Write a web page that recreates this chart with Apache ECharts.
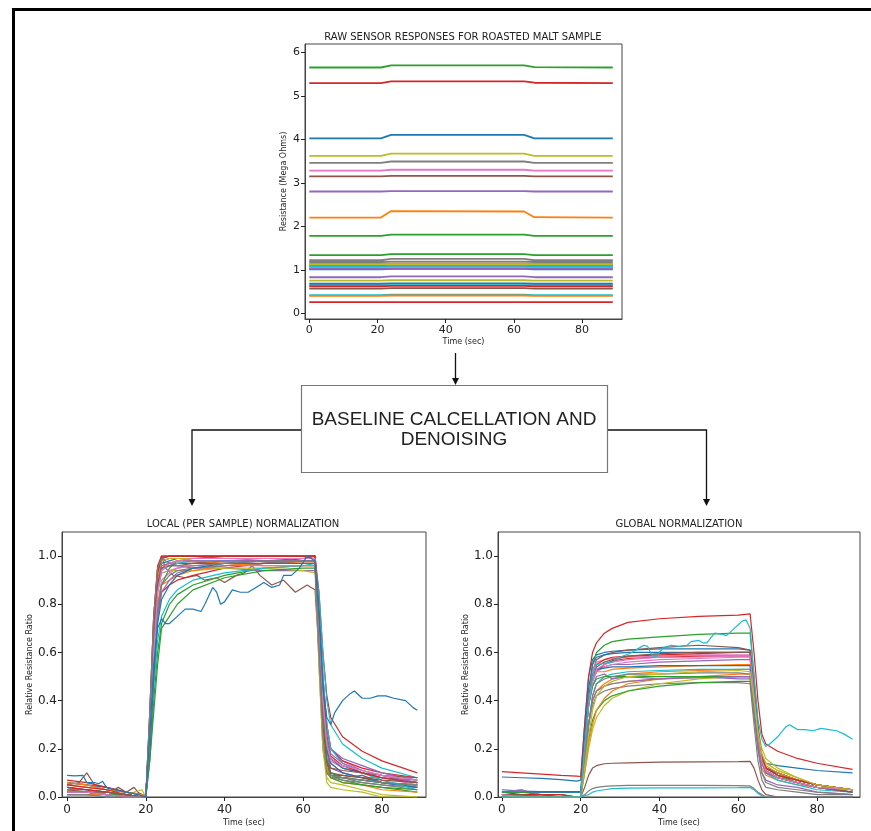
<!DOCTYPE html>
<html><head><meta charset="utf-8">
<script src="https://cdn.jsdelivr.net/npm/echarts@6.0.0/dist/echarts.min.js"></script>
<style>html,body{margin:0;padding:0;background:#fff}#c{width:871px;height:831px}</style>
</head><body><div id="c"></div>
<script>
const PALETTE = ['#1f77b4','#ff7f0e','#2ca02c','#d62728','#9467bd','#8c564b','#e377c2','#7f7f7f','#bcbd22','#17becf'];

// ---- Raw sensor responses (Mega Ohms) ----
const rawTimes = [0, 21, 24, 63, 66, 89];
const rawValues = [
  [4.02,4.02,4.10,4.10,4.02,4.02],
  [2.20,2.20,2.35,2.34,2.21,2.20],
  [5.65,5.65,5.70,5.70,5.66,5.65],
  [5.29,5.29,5.33,5.33,5.30,5.29],
  [2.80,2.80,2.81,2.81,2.80,2.80],
  [3.15,3.15,3.16,3.16,3.15,3.15],
  [3.28,3.28,3.30,3.30,3.28,3.28],
  [3.46,3.46,3.49,3.49,3.46,3.46],
  [3.62,3.62,3.67,3.67,3.62,3.62],
  [0.64,0.64,0.65,0.65,0.64,0.64],
  [0.68,0.68,0.69,0.69,0.68,0.68],
  [1.14,1.14,1.15,1.15,1.14,1.14],
  [1.78,1.78,1.81,1.81,1.78,1.78],
  [0.26,0.26,0.26,0.26,0.26,0.26],
  [0.83,0.83,0.85,0.85,0.83,0.83],
  [0.57,0.57,0.58,0.58,0.57,0.57],
  [1.04,1.04,1.05,1.05,1.04,1.04],
  [1.22,1.22,1.25,1.25,1.22,1.22],
  [0.75,0.75,0.76,0.76,0.75,0.75],
  [0.42,0.42,0.43,0.43,0.42,0.42],
  [1.01,1.01,1.02,1.02,1.01,1.01],
  [0.40,0.40,0.41,0.41,0.40,0.40],
  [1.34,1.34,1.36,1.36,1.34,1.34],
  [0.62,0.62,0.63,0.63,0.62,0.62],
  [1.02,1.02,1.03,1.03,1.02,1.02],
  [1.10,1.10,1.12,1.12,1.10,1.10],
  [1.06,1.06,1.07,1.07,1.06,1.06],
  [1.18,1.18,1.19,1.19,1.18,1.18],
  [1.12,1.12,1.13,1.13,1.12,1.12],
  [1.08,1.08,1.09,1.09,1.08,1.08]
];

// ---- Normalized responses, shared time grid ----
const normTimes = [0,5,10,15,19,20,21,22,23,24,26,28,32,40,50,60,63,64,65,66,67,70,75,80,89];

const localValues = [
  [0.06,0.05,0.04,0.02,0.01,0.0,0.3,0.7,0.93,0.99,1.0,1.0,1.0,0.99,0.99,0.99,1.0,0.7,0.35,0.15,0.09,0.08,0.07,0.06,0.05],
  [0.05,0.04,0.03,0.02,0.01,0.0,0.25,0.6,0.85,0.95,0.97,0.97,0.97,0.98,0.98,0.97,0.97,0.7,0.4,0.22,0.14,0.1,0.08,0.06,0.04],
  [0.03,0.03,0.02,0.01,0.0,0.0,0.15,0.4,0.6,0.72,0.8,0.84,0.88,0.92,0.95,0.96,0.96,0.75,0.45,0.2,0.09,0.07,0.05,0.04,0.02],
  [0.07,0.06,0.04,0.02,0.01,0.0,0.2,0.5,0.75,0.85,0.88,0.9,0.92,0.95,0.97,0.99,1.0,0.85,0.6,0.42,0.33,0.25,0.19,0.15,0.1],
  [0.04,0.03,0.02,0.01,0.0,0.0,0.3,0.65,0.88,0.95,0.96,0.96,0.95,0.95,0.94,0.94,0.94,0.7,0.4,0.2,0.12,0.1,0.08,0.06,0.04],
  [0.02,0.02,0.01,0.01,0.0,0.0,0.35,0.75,0.95,1.0,1.0,1.0,1.0,1.0,1.0,1.0,1.0,0.6,0.25,0.1,0.09,0.09,0.08,0.08,0.07],
  [0.03,0.02,0.02,0.01,0.0,0.0,0.25,0.55,0.8,0.9,0.93,0.95,0.96,0.97,0.98,0.98,0.98,0.75,0.45,0.28,0.2,0.15,0.11,0.09,0.06],
  [0.01,0.01,0.01,0.0,0.0,0.0,0.3,0.7,0.92,0.98,0.99,0.99,0.99,0.99,0.99,0.99,0.99,0.55,0.2,0.1,0.08,0.07,0.06,0.05,0.04],
  [0.02,0.02,0.01,0.01,0.03,0.0,0.25,0.6,0.85,0.93,0.94,0.94,0.94,0.95,0.95,0.94,0.93,0.6,0.25,0.08,0.06,0.05,0.03,0.01,0.0],
  [0.04,0.03,0.02,0.01,0.0,0.0,0.2,0.45,0.65,0.75,0.82,0.86,0.9,0.93,0.95,0.96,0.97,0.85,0.6,0.4,0.3,0.22,0.16,0.12,0.08],
  [0.06,0.05,0.03,0.02,0.01,0.0,0.3,0.65,0.9,0.97,0.98,0.99,0.99,0.99,0.99,0.99,0.99,0.7,0.35,0.2,0.14,0.1,0.08,0.06,0.04],
  [0.06,0.05,0.03,0.02,0.01,0.0,0.25,0.55,0.8,0.88,0.9,0.92,0.94,0.96,0.97,0.97,0.97,0.75,0.45,0.25,0.16,0.12,0.1,0.08,0.06],
  [0.02,0.02,0.01,0.01,0.0,0.0,0.2,0.5,0.75,0.88,0.95,0.98,0.99,1.0,1.0,1.0,1.0,0.7,0.35,0.15,0.1,0.08,0.07,0.06,0.05],
  [0.05,0.04,0.03,0.01,0.0,0.0,0.35,0.75,0.96,1.0,1.0,1.0,1.0,1.0,1.0,1.0,1.0,0.8,0.5,0.3,0.2,0.15,0.12,0.1,0.08],
  [0.03,0.03,0.02,0.01,0.0,0.0,0.2,0.5,0.75,0.85,0.9,0.93,0.95,0.96,0.97,0.98,0.98,0.8,0.5,0.3,0.2,0.16,0.13,0.1,0.07],
  [0.04,0.03,0.02,0.01,0.0,0.0,0.3,0.65,0.88,0.95,0.96,0.97,0.97,0.98,0.98,0.98,0.98,0.6,0.3,0.15,0.12,0.11,0.1,0.09,0.08],
  [0.01,0.01,0.0,0.0,0.0,0.0,0.3,0.65,0.87,0.93,0.94,0.95,0.96,0.96,0.96,0.96,0.96,0.7,0.4,0.22,0.15,0.12,0.1,0.08,0.05],
  [0.02,0.02,0.01,0.0,0.0,0.0,0.25,0.55,0.78,0.88,0.92,0.94,0.95,0.96,0.97,0.98,0.98,0.65,0.3,0.12,0.09,0.08,0.06,0.05,0.03],
  [0.03,0.02,0.02,0.01,0.0,0.0,0.3,0.7,0.92,0.98,0.99,0.99,0.99,0.99,0.99,0.99,0.99,0.55,0.2,0.06,0.04,0.03,0.02,0.0,0.0],
  [0.01,0.01,0.0,0.0,0.0,0.0,0.25,0.6,0.85,0.94,0.96,0.97,0.98,0.98,0.99,0.99,0.99,0.8,0.5,0.3,0.2,0.14,0.1,0.07,0.03],
  [0.02,0.02,0.01,0.01,0.0,0.0,0.2,0.5,0.72,0.82,0.88,0.92,0.95,0.97,0.98,0.99,0.99,0.75,0.45,0.25,0.16,0.12,0.1,0.08,0.06],
  [0.01,0.01,0.01,0.0,0.0,0.0,0.3,0.65,0.9,0.96,0.97,0.98,0.98,0.97,0.96,0.96,0.96,0.65,0.3,0.12,0.08,0.06,0.05,0.03,0.02],
  [0.02,0.02,0.01,0.01,0.0,0.0,0.15,0.35,0.55,0.7,0.75,0.8,0.86,0.91,0.94,0.95,0.95,0.75,0.4,0.15,0.08,0.06,0.05,0.04,0.03],
  [0.04,0.03,0.02,0.01,0.0,0.0,0.3,0.7,0.93,0.99,1.0,1.0,1.0,1.0,1.0,1.0,1.0,0.75,0.45,0.25,0.17,0.13,0.1,0.08,0.06],
  [0.02,0.02,0.01,0.0,0.0,0.0,0.3,0.65,0.88,0.96,0.97,0.98,0.98,0.98,0.98,0.98,0.98,0.7,0.4,0.24,0.18,0.14,0.11,0.09,0.06],
  [0.03,0.02,0.02,0.01,0.0,0.0,0.3,0.65,0.88,0.95,0.96,0.96,0.97,0.97,0.97,0.97,0.97,0.65,0.3,0.14,0.1,0.09,0.08,0.07,0.06],
  [0.02,0.02,0.01,0.0,0.0,0.0,0.25,0.6,0.85,0.94,0.97,0.98,0.99,0.99,0.99,0.99,0.99,0.7,0.4,0.22,0.16,0.13,0.11,0.09,0.07],
  [0.01,0.01,0.0,0.0,0.0,0.0,0.35,0.75,0.95,0.99,0.97,0.96,0.96,0.97,0.98,0.98,0.98,0.6,0.25,0.1,0.09,0.08,0.07,0.06,0.05]
];
// noisy local traces [time, value]
const localNoisyBlue = [[0,0.09],[2,0.088],[4,0.09],[5,0.06],[7,0.06],[8,0.055],[9,0.065],[10,0.04],[12,0.03],[15,0.02],[18,0.01],[20,0.0],[21,0.25],[22,0.55],[23,0.7],[24,0.74],[25,0.72],[26,0.72],[28,0.75],[30,0.78],[32,0.78],[34,0.77],[35,0.8],[37,0.87],[38,0.85],[39,0.8],[40,0.81],[42,0.86],[44,0.85],[46,0.85],[48,0.87],[50,0.89],[52,0.87],[54,0.88],[55,0.92],[57,0.92],[59,0.95],[61,1.0],[62,0.99],[63,0.98],[64,0.75],[65,0.45],[66,0.33],[67,0.3],[68,0.35],[70,0.4],[72,0.43],[73,0.44],[75,0.41],[77,0.41],[79,0.42],[81,0.42],[83,0.41],[86,0.40],[88,0.37],[89,0.36]];
const localNoisyBrown = [[0,0.05],[3,0.06],[5,0.1],[7,0.05],[10,0.04],[12,0.03],[13,0.04],[15,0.02],[17,0.04],[18,0.02],[20,0.0],[21,0.3],[22,0.7],[23,0.93],[24,1.0],[25,0.95],[27,0.92],[30,0.91],[33,0.92],[35,0.9],[38,0.91],[40,0.89],[43,0.92],[45,0.93],[47,0.96],[49,0.92],[52,0.88],[55,0.9],[58,0.85],[61,0.88],[62,0.87],[63,0.86],[64,0.6],[65,0.3],[66,0.1],[67,0.08],[70,0.08],[75,0.09],[80,0.06],[85,0.05],[89,0.05]];

const globalValues = [
  [0.083,0.08,0.077,0.072,0.066,0.07,0.3,0.5,0.57,0.59,0.6,0.605,0.61,0.615,0.615,0.615,0.61,0.45,0.25,0.17,0.14,0.13,0.12,0.11,0.1],
  [0.01,0.01,0.01,0.0,0.0,0.0,0.15,0.3,0.4,0.44,0.47,0.49,0.51,0.52,0.525,0.53,0.53,0.35,0.2,0.12,0.09,0.07,0.05,0.04,0.03],
  [0.02,0.02,0.02,0.02,0.02,0.02,0.2,0.4,0.55,0.6,0.63,0.645,0.655,0.665,0.675,0.68,0.68,0.5,0.3,0.16,0.11,0.08,0.06,0.04,0.03],
  [0.105,0.1,0.095,0.09,0.087,0.085,0.3,0.5,0.6,0.64,0.68,0.7,0.725,0.74,0.75,0.755,0.76,0.6,0.4,0.26,0.22,0.19,0.16,0.14,0.115],
  [0.01,0.01,0.01,0.0,0.0,0.0,0.2,0.4,0.5,0.53,0.54,0.55,0.55,0.56,0.565,0.57,0.57,0.4,0.25,0.15,0.1,0.08,0.06,0.04,0.03],
  [0.01,0.01,0.0,0.0,0.0,0.0,0.2,0.4,0.52,0.57,0.59,0.6,0.61,0.62,0.63,0.62,0.61,0.45,0.28,0.16,0.12,0.09,0.07,0.05,0.03],
  [0.02,0.03,0.01,0.01,0.0,0.0,0.2,0.4,0.52,0.56,0.57,0.575,0.58,0.585,0.59,0.59,0.59,0.42,0.25,0.14,0.1,0.08,0.06,0.04,0.03],
  [0.0,0.0,0.0,0.0,0.0,0.0,0.15,0.3,0.38,0.42,0.44,0.45,0.46,0.47,0.475,0.475,0.47,0.3,0.15,0.07,0.04,0.03,0.02,0.01,0.01],
  [0.01,0.01,0.0,0.0,0.0,0.0,0.1,0.2,0.28,0.33,0.38,0.41,0.44,0.47,0.49,0.5,0.5,0.38,0.25,0.17,0.14,0.11,0.08,0.05,0.03],
  [0.0,0.0,0.0,0.0,0.0,0.0,0.005,0.01,0.02,0.025,0.03,0.035,0.037,0.038,0.038,0.039,0.04,0.03,0.015,0.005,0.0,0.0,0.0,0.0,0.0],
  [0.03,0.025,0.022,0.022,0.022,0.022,0.25,0.45,0.55,0.58,0.59,0.595,0.6,0.6,0.6,0.6,0.6,0.42,0.25,0.15,0.12,0.1,0.07,0.05,0.03],
  [0.01,0.01,0.0,0.0,0.0,0.0,0.2,0.4,0.5,0.52,0.52,0.53,0.535,0.54,0.545,0.55,0.55,0.4,0.25,0.15,0.11,0.08,0.06,0.04,0.02],
  [0.01,0.01,0.0,0.0,0.0,0.0,0.12,0.24,0.32,0.36,0.4,0.42,0.44,0.46,0.475,0.48,0.48,0.35,0.22,0.15,0.12,0.09,0.07,0.05,0.03],
  [0.02,0.01,0.01,0.0,0.0,0.0,0.2,0.38,0.48,0.52,0.55,0.565,0.575,0.58,0.585,0.585,0.585,0.42,0.25,0.15,0.12,0.1,0.07,0.05,0.03],
  [0.02,0.03,0.0,0.0,0.0,0.0,0.2,0.38,0.46,0.5,0.51,0.49,0.5,0.49,0.5,0.49,0.49,0.35,0.2,0.1,0.07,0.05,0.04,0.02,0.01],
  [0.0,0.0,0.0,0.0,0.0,0.0,0.04,0.09,0.12,0.13,0.138,0.14,0.142,0.145,0.146,0.147,0.148,0.12,0.07,0.03,0.01,0.0,0.0,0.0,0.0],
  [0.01,0.0,0.0,0.0,0.0,0.0,0.2,0.38,0.48,0.52,0.54,0.55,0.56,0.57,0.575,0.58,0.58,0.42,0.25,0.15,0.11,0.08,0.06,0.04,0.02],
  [0.0,0.0,0.0,0.0,0.0,0.0,0.01,0.025,0.035,0.04,0.044,0.046,0.048,0.048,0.048,0.047,0.046,0.035,0.02,0.01,0.0,0.0,0.0,0.0,0.0],
  [0.01,0.0,0.0,0.0,0.0,0.0,0.15,0.3,0.4,0.44,0.46,0.47,0.48,0.49,0.495,0.5,0.5,0.4,0.28,0.2,0.16,0.12,0.08,0.05,0.03],
  [0.0,0.0,0.0,0.0,0.0,0.0,0.15,0.3,0.42,0.47,0.5,0.51,0.52,0.525,0.53,0.53,0.53,0.4,0.25,0.15,0.1,0.07,0.05,0.03,0.02],
  [0.02,0.02,0.02,0.02,0.02,0.02,0.2,0.4,0.5,0.53,0.535,0.54,0.54,0.545,0.545,0.545,0.545,0.4,0.25,0.15,0.12,0.1,0.07,0.05,0.03],
  [0.01,0.01,0.0,0.0,0.0,0.0,0.1,0.22,0.3,0.36,0.41,0.44,0.47,0.49,0.5,0.51,0.51,0.38,0.25,0.16,0.13,0.1,0.07,0.05,0.03],
  [0.02,0.02,0.01,0.01,0.0,0.0,0.2,0.38,0.46,0.49,0.5,0.5,0.5,0.5,0.5,0.5,0.5,0.38,0.24,0.15,0.12,0.09,0.06,0.04,0.02],
  [0.01,0.01,0.01,0.01,0.0,0.0,0.2,0.4,0.5,0.55,0.57,0.58,0.585,0.59,0.595,0.6,0.6,0.45,0.28,0.17,0.12,0.09,0.07,0.05,0.03],
  [0.0,0.0,0.0,0.0,0.0,0.0,0.15,0.3,0.4,0.44,0.46,0.47,0.48,0.49,0.495,0.5,0.5,0.38,0.24,0.14,0.1,0.08,0.06,0.04,0.02],
  [0.01,0.01,0.0,0.0,0.0,0.0,0.2,0.4,0.5,0.54,0.56,0.57,0.585,0.595,0.6,0.6,0.6,0.45,0.28,0.16,0.11,0.08,0.06,0.04,0.02],
  [0.01,0.0,0.0,0.0,0.0,0.0,0.2,0.38,0.48,0.53,0.55,0.56,0.57,0.58,0.58,0.585,0.585,0.42,0.25,0.15,0.11,0.08,0.06,0.04,0.03],
  [0.0,0.0,0.0,0.0,0.0,0.0,0.15,0.3,0.42,0.47,0.49,0.5,0.51,0.51,0.515,0.515,0.51,0.35,0.2,0.1,0.06,0.04,0.03,0.02,0.01],
  [0.0,0.0,0.0,0.0,0.0,0.0,0.12,0.25,0.36,0.42,0.46,0.48,0.5,0.51,0.52,0.525,0.52,0.4,0.27,0.18,0.14,0.11,0.08,0.05,0.03]
];
const globalNoisyCyan = [[0,0.0],[20,0.0],[21,0.2],[22,0.4],[23,0.5],[24,0.55],[26,0.555],[28,0.56],[30,0.58],[33,0.6],[35,0.62],[36,0.63],[37,0.625],[38,0.59],[39,0.58],[40,0.6],[41,0.62],[43,0.63],[45,0.625],[47,0.63],[48,0.645],[50,0.65],[51,0.64],[52,0.64],[54,0.68],[56,0.675],[57,0.67],[59,0.7],[60,0.715],[61,0.73],[62,0.735],[63,0.7],[64,0.5],[65,0.32],[66,0.24],[67,0.21],[68,0.22],[70,0.25],[72,0.29],[73,0.3],[74,0.29],[75,0.28],[77,0.28],[79,0.275],[81,0.285],[83,0.28],[85,0.275],[87,0.26],[89,0.24]];

const rawYTicks = [0,1,2,3,4,5,6];
const normYTicks = [0,0.2,0.4,0.6,0.8,1.0];
const timeTicks = [0,20,40,60,80];

// ---- build ----
const FONT = 'DejaVu Sans';
function zip(times, vals){ return times.map((t,i)=>[t, vals[i]]); }
function xAx(gi, min, max, fs, margin, nameGap){
  return {type:'value', gridIndex:gi, min, max,
    axisLine:{show:true,onZero:false,lineStyle:{color:'#444',width:1}},
    axisTick:{show:true,length:4,customValues:timeTicks,lineStyle:{color:'#222'}},
    axisLabel:{customValues:timeTicks,color:'#222',fontSize:fs,fontFamily:FONT,margin},
    splitLine:{show:false},
    name:'Time (sec)', nameLocation:'middle', nameGap, nameTextStyle:{fontSize:8,fontFamily:FONT,color:'#222'}};
}
function yAx(gi, min, max, ticks, fs, name, nameGap, fmt){
  return {type:'value', gridIndex:gi, min, max,
    axisLine:{show:true,onZero:false,lineStyle:{color:'#444',width:1}},
    axisTick:{show:true,length:4,customValues:ticks,lineStyle:{color:'#222'}},
    axisLabel:{customValues:ticks,color:'#222',fontSize:fs,fontFamily:FONT,margin:5,formatter:fmt},
    splitLine:{show:false},
    name, nameLocation:'middle', nameGap, nameTextStyle:{fontSize:8,fontFamily:FONT,color:'#222'}};
}
const series = [];
function addLine(gi, data, color, w){
  series.push({type:'line', xAxisIndex:gi, yAxisIndex:gi, data, showSymbol:false, symbol:'none',
    lineStyle:{color, width:w}, silent:true, animation:false, z:2});
}
rawValues.forEach((v,i)=>addLine(0, zip(rawTimes, v), PALETTE[i%10], 1.8));
addLine(1, localNoisyBrown, PALETTE[5], 1.2);
localValues.forEach((v,i)=>addLine(1, zip(normTimes, v), PALETTE[i%10], 1.2));
addLine(1, localNoisyBlue, PALETTE[0], 1.2);
globalValues.forEach((v,i)=>addLine(2, zip(normTimes, v), PALETTE[i%10], 1.2));
addLine(2, globalNoisyCyan, PALETTE[9], 1.2);

const gridStyle = {show:true, borderColor:'#444', borderWidth:1, containLabel:false};
const option = {
  animation:false,
  backgroundColor:'#fff',
  grid:[
    Object.assign({left:305, top:44, width:317, height:275}, gridStyle),
    Object.assign({left:62, top:532, width:364, height:265}, gridStyle),
    Object.assign({left:498, top:532, width:362, height:265}, gridStyle)
  ],
  xAxis:[ xAx(0,-1.26,91.7,11,6,19), xAx(1,-1.3,91.2,12,7,22), xAx(2,-1.0,90.9,12,7,22) ],
  yAxis:[
    yAx(0,-0.13,6.19,rawYTicks,11,'Resistance (Mega Ohms)',17, v=>String(v)),
    yAx(1,0,1.1,normYTicks,12,'Relative Resistance Ratio',28, v=>v.toFixed(1)),
    yAx(2,0,1.1,normYTicks,12,'Relative Resistance Ratio',28, v=>v.toFixed(1))
  ],
  series,
  graphic:[
    {type:'rect', shape:{x:13.5,y:9.5,width:900,height:900}, style:{fill:'none',stroke:'#000',lineWidth:3}, z:0},
    {type:'text', x:463, y:37, style:{text:'RAW SENSOR RESPONSES FOR ROASTED MALT SAMPLE', font:'10px "DejaVu Sans"', fill:'#222', align:'center', verticalAlign:'middle'}},
    {type:'text', x:243, y:524, style:{text:'LOCAL (PER SAMPLE) NORMALIZATION', font:'10px "DejaVu Sans"', fill:'#222', align:'center', verticalAlign:'middle'}},
    {type:'text', x:679, y:524, style:{text:'GLOBAL NORMALIZATION', font:'10px "DejaVu Sans"', fill:'#222', align:'center', verticalAlign:'middle'}},
    // top arrow
    {type:'line', shape:{x1:455.5,y1:353,x2:455.5,y2:379}, style:{stroke:'#111',lineWidth:1.3}},
    {type:'polygon', shape:{points:[[452,378],[459,378],[455.5,385]]}, style:{fill:'#111'}},
    // box
    {type:'rect', shape:{x:301.5,y:385.5,width:306,height:87}, style:{fill:'#fff',stroke:'#777',lineWidth:1.2}},
    {type:'text', x:454, y:420, style:{text:'BASELINE CALCELLATION AND', font:'19px "Liberation Sans"', fill:'#222', align:'center', verticalAlign:'middle'}},
    {type:'text', x:454, y:440, style:{text:'DENOISING', font:'19px "Liberation Sans"', fill:'#222', align:'center', verticalAlign:'middle'}},
    // left connector
    {type:'polyline', shape:{points:[[301,430],[192,430],[192,500]]}, style:{fill:'none',stroke:'#111',lineWidth:1.3}},
    {type:'polygon', shape:{points:[[188.5,499],[195.5,499],[192,506]]}, style:{fill:'#111'}},
    // right connector
    {type:'polyline', shape:{points:[[608,430],[706.5,430],[706.5,500]]}, style:{fill:'none',stroke:'#111',lineWidth:1.3}},
    {type:'polygon', shape:{points:[[703,499],[710,499],[706.5,506]]}, style:{fill:'#111'}}
  ]
};
const chart = echarts.init(document.getElementById('c'), null, {renderer:'canvas'});
chart.setOption(option);
</script></body></html>
